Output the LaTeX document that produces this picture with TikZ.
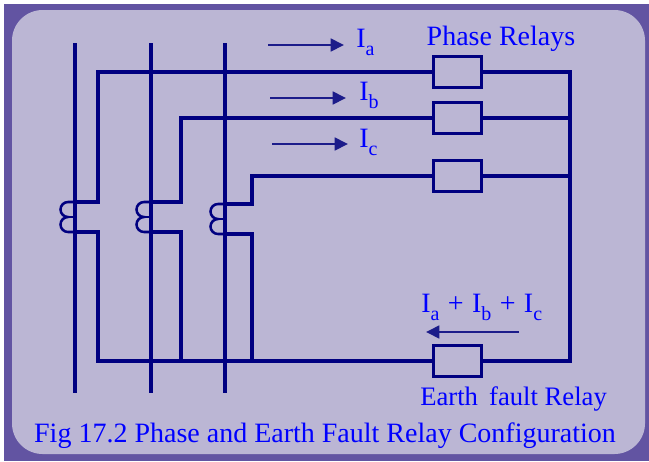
\documentclass[tikz,border=0pt]{standalone}
\usepackage{fontspec}
\setmainfont{Liberation Serif}
\usetikzlibrary{arrows.meta,calc}
\definecolor{frameC}{RGB}{98,84,162}
\definecolor{panelC}{RGB}{187,182,212}
\definecolor{wireC}{RGB}{0,0,128}
\definecolor{arrC}{RGB}{28,28,138}
\definecolor{txtC}{RGB}{0,0,255}
\newcommand{\Isb}[1]{I\raisebox{-6pt}{\fontsize{15}{15}\selectfont #1}}
\newcommand{\plusgap}{\hspace{6.3pt}+\hspace{6.3pt}}
\begin{document}
\begin{tikzpicture}[x=0.75pt,y=-0.75pt,
  wire/.style={draw=wireC,line width=2.4pt,line join=miter},
  bus/.style={draw=wireC,line width=2.4pt},
  coil/.style={draw=wireC,line width=1.9pt},
  relaybox/.style={draw=wireC,line width=2.3pt,fill=panelC,rectangle,
    minimum width=35.5pt,minimum height=23.5pt,inner sep=0pt},
  curarrow/.style={draw=arrC,line width=2pt,-{Triangle[length=10pt,width=9.5pt]}},
  lbl/.style={text=txtC,inner sep=0pt,font=\fontsize{21}{24}\selectfont},
  lblsmall/.style={text=txtC,inner sep=0pt,font=\fontsize{20}{23}\selectfont}]
\useasboundingbox (0,0) rectangle (649,461);
\fill[white] (0,0) rectangle (649,461);
\fill[frameC] (4,4) rectangle (649,461);
\fill[panelC,rounded corners=23pt] (12,10) rectangle (645,454);

% bus bars
\foreach \bx/\nm in {75/A,151/B,225/C}{
  \coordinate (\nm top) at (\bx,43);
  \coordinate (\nm bot) at (\bx,393);
  \draw[bus] (\nm top) -- (\nm bot);
}

% relays
\node[relaybox] (ra) at (457.5,72) {};
\node[relaybox] (rb) at (457.5,118) {};
\node[relaybox] (rc) at (457.5,176) {};
\node[relaybox] (re) at (457.5,361) {};

% junction coordinates
\coordinate (a1) at (75,202);  \coordinate (a2) at (98,202);
\coordinate (a3) at (75,232);  \coordinate (a4) at (98,232);
\coordinate (b1) at (151,202); \coordinate (b2) at (181,202);
\coordinate (b3) at (151,232); \coordinate (b4) at (181,232);
\coordinate (c1) at (225,204); \coordinate (c2) at (252,204);
\coordinate (c3) at (225,234); \coordinate (c4) at (252,234);
\coordinate (rt) at (570,72);
\coordinate (rbot) at (570,361);

% CT secondary wiring
\draw[wire] (a1) -- (a2) |- (ra.west);
\draw[wire] (b1) -- (b2) |- (rb.west);
\draw[wire] (c1) -- (c2) |- (rc.west);
\draw[wire] (ra.east) -- (rt) -- (rbot) -- (re.east);
\draw[wire] (rb.east) -- (rb.east -| rt);
\draw[wire] (rc.east) -- (rc.east -| rt);
\draw[wire] (a3) -- (a4) |- (re.west);
\draw[wire] (b3) -- (b4) -- (b4 |- re.west);
\draw[wire] (c3) -- (c4) -- (c4 |- re.west);

% CT coils
\foreach \nm in {a1,b1,c1}{
  \draw[coil] (\nm) -- ++(-7,0) arc[start angle=270,end angle=90,radius=7.5]
     arc[start angle=270,end angle=90,radius=7.5] -- ++(7,0);
  \draw[coil] ($(\nm)+(-7,15)$) -- ++(7,0);
}

% current arrows
\coordinate (ias) at (268,45);  \coordinate (iae) at (344,45);
\coordinate (ibs) at (270,98);  \coordinate (ibe) at (346,98);
\coordinate (ics) at (272,144); \coordinate (ice) at (348,144);
\coordinate (ies) at (519,332); \coordinate (iee) at (426,332);
\draw[curarrow] (ias) -- (iae);
\draw[curarrow] (ibs) -- (ibe);
\draw[curarrow] (ics) -- (ice);
\draw[curarrow] (ies) -- (iee);

% labels
\node[lbl,anchor=base west] (la) at (356,47) {\Isb{a}};
\node[lbl,anchor=base west] (lb) at (359,100) {\Isb{b}};
\node[lbl,anchor=base west] (lc) at (359,147) {\Isb{c}};
\node[lbl,anchor=base west] (lsum) at (421,312) {\Isb{a}\plusgap\Isb{b}\plusgap\Isb{c}};
\node[lbl,anchor=base] (phr) at (501,45) {Phase Relays};
\node[lblsmall,anchor=base west] (efr) at (420,405) {Earth\, fault Relay};
\node[lbl,anchor=base] (cap) at (325,442) {Fig 17.2 Phase and Earth Fault Relay Configuration};
\end{tikzpicture}
\end{document}
